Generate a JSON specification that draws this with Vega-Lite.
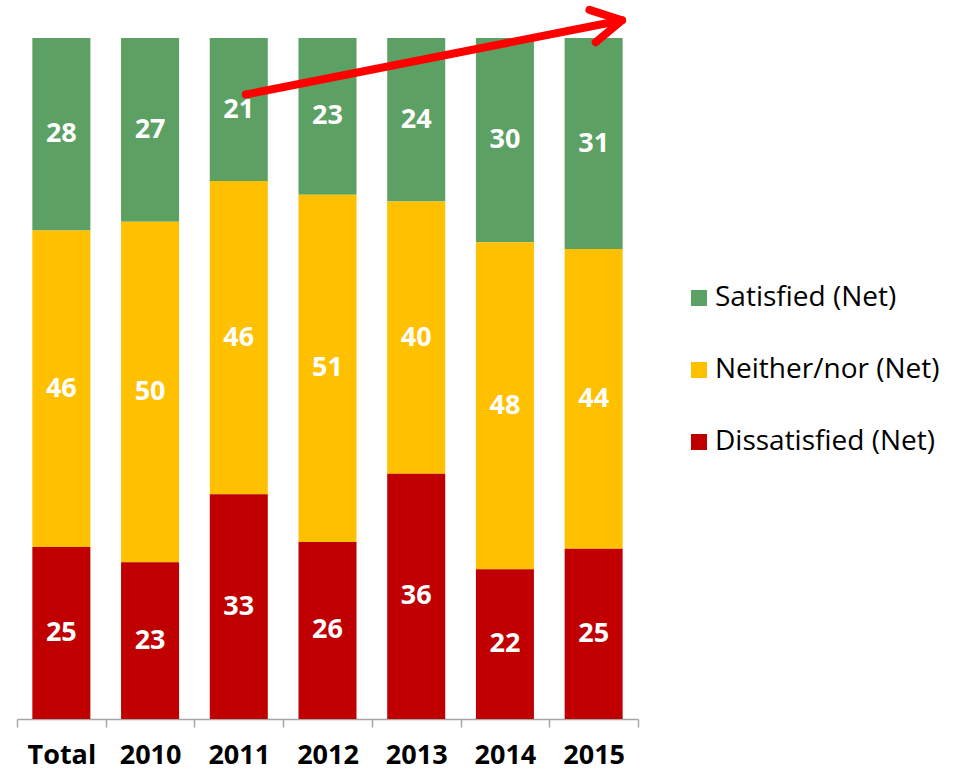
{
  "$schema": "https://vega.github.io/schema/vega-lite/v6.json",
  "width": 621,
  "height": 681,
  "autosize": "none",
  "padding": {"left": 17, "top": 38, "right": 321, "bottom": 51},
  "background": "white",
  "config": {"view": {"stroke": null}, "font": "Open Sans"},
  "resolve": {"scale": {"x": "independent"}},
  "layer": [
    {
      "data": {
        "values": [
          {"year": "Total", "cat": "Satisfied (Net)", "ord": 3, "v": 28},
          {"year": "Total", "cat": "Neither/nor (Net)", "ord": 2, "v": 46},
          {"year": "Total", "cat": "Dissatisfied (Net)", "ord": 1, "v": 25},
          {"year": "2010", "cat": "Satisfied (Net)", "ord": 3, "v": 27},
          {"year": "2010", "cat": "Neither/nor (Net)", "ord": 2, "v": 50},
          {"year": "2010", "cat": "Dissatisfied (Net)", "ord": 1, "v": 23},
          {"year": "2011", "cat": "Satisfied (Net)", "ord": 3, "v": 21},
          {"year": "2011", "cat": "Neither/nor (Net)", "ord": 2, "v": 46},
          {"year": "2011", "cat": "Dissatisfied (Net)", "ord": 1, "v": 33},
          {"year": "2012", "cat": "Satisfied (Net)", "ord": 3, "v": 23},
          {"year": "2012", "cat": "Neither/nor (Net)", "ord": 2, "v": 51},
          {"year": "2012", "cat": "Dissatisfied (Net)", "ord": 1, "v": 26},
          {"year": "2013", "cat": "Satisfied (Net)", "ord": 3, "v": 24},
          {"year": "2013", "cat": "Neither/nor (Net)", "ord": 2, "v": 40},
          {"year": "2013", "cat": "Dissatisfied (Net)", "ord": 1, "v": 36},
          {"year": "2014", "cat": "Satisfied (Net)", "ord": 3, "v": 30},
          {"year": "2014", "cat": "Neither/nor (Net)", "ord": 2, "v": 48},
          {"year": "2014", "cat": "Dissatisfied (Net)", "ord": 1, "v": 22},
          {"year": "2015", "cat": "Satisfied (Net)", "ord": 3, "v": 31},
          {"year": "2015", "cat": "Neither/nor (Net)", "ord": 2, "v": 44},
          {"year": "2015", "cat": "Dissatisfied (Net)", "ord": 1, "v": 25}
        ]
      },
      "transform": [
        {"stack": "v", "groupby": ["year"], "sort": [{"field": "ord", "order": "ascending"}], "offset": "normalize", "as": ["y0", "y1"]},
        {"calculate": "(datum.y0 + datum.y1) / 2", "as": "ymid"}
      ],
      "encoding": {
        "x": {
          "field": "year",
          "type": "nominal",
          "sort": ["Total", "2010", "2011", "2012", "2013", "2014", "2015"],
          "scale": {"paddingInner": 0, "paddingOuter": 0},
          "axis": {
            "title": null,
            "labelAngle": 0,
            "labelFont": "Open Sans",
            "labelFontWeight": "bold",
            "labelFontSize": 27,
            "labelColor": "#000000",
            "labelPadding": 15,
            "domainColor": "#A6A6A6",
            "domainWidth": 1.5,
            "tickColor": "#A6A6A6",
            "tickWidth": 1.5,
            "tickSize": 8,
            "tickBand": "extent"
          }
        }
      },
      "layer": [
        {
          "mark": {"type": "bar", "width": {"band": 0.654}},
          "encoding": {
            "y": {"field": "y0", "type": "quantitative", "scale": {"domain": [0, 1], "nice": false}, "axis": null},
            "y2": {"field": "y1"},
            "color": {
              "field": "cat",
              "type": "nominal",
              "scale": {
                "domain": ["Satisfied (Net)", "Neither/nor (Net)", "Dissatisfied (Net)"],
                "range": ["#5DA063", "#FFC000", "#C00000"]
              },
              "legend": {
                "title": null,
                "orient": "none",
                "legendX": 668,
                "legendY": 246,
                "symbolType": "square",
                "symbolSize": 256,
                "symbolStrokeWidth": 0,
                "labelFont": "Open Sans",
                "labelFontSize": 28,
                "labelColor": "#000000",
                "labelOffset": 2,
                "labelLimit": 400,
                "rowPadding": 44,
                "padding": 0
              }
            }
          }
        },
        {
          "mark": {"type": "text", "color": "white", "fontSize": 27, "fontWeight": "bold", "font": "Open Sans", "baseline": "middle"},
          "encoding": {
            "y": {"field": "ymid", "type": "quantitative", "scale": {"domain": [0, 1], "nice": false}},
            "text": {"field": "v", "type": "quantitative"}
          }
        }
      ]
    },
    {
      "data": {"values": [{"xs": 2.58, "ys": 0.917, "xe": 6.82, "ye": 1.026}]},
      "encoding": {},
      "layer": [
        {
          "mark": {"type": "rule", "color": "#FF0000", "strokeWidth": 8, "strokeCap": "round"},
          "encoding": {
            "x": {"field": "xs", "type": "quantitative", "scale": {"domain": [0, 7], "nice": false, "zero": false}, "axis": null},
            "x2": {"field": "xe"},
            "y": {"field": "ys", "type": "quantitative", "scale": {"domain": [0, 1], "nice": false}},
            "y2": {"field": "ye"}
          }
        },
        {
          "mark": {"type": "point", "shape": "M-1,-0.55L0,0L-1,0.55", "filled": false, "color": "#FF0000", "strokeWidth": 8, "strokeCap": "round", "strokeJoin": "round", "size": 3600, "angle": 349, "opacity": 1},
          "encoding": {
            "x": {"field": "xe", "type": "quantitative", "scale": {"domain": [0, 7], "nice": false, "zero": false}, "axis": null},
            "y": {"field": "ye", "type": "quantitative", "scale": {"domain": [0, 1], "nice": false}}
          }
        }
      ]
    }
  ]
}
